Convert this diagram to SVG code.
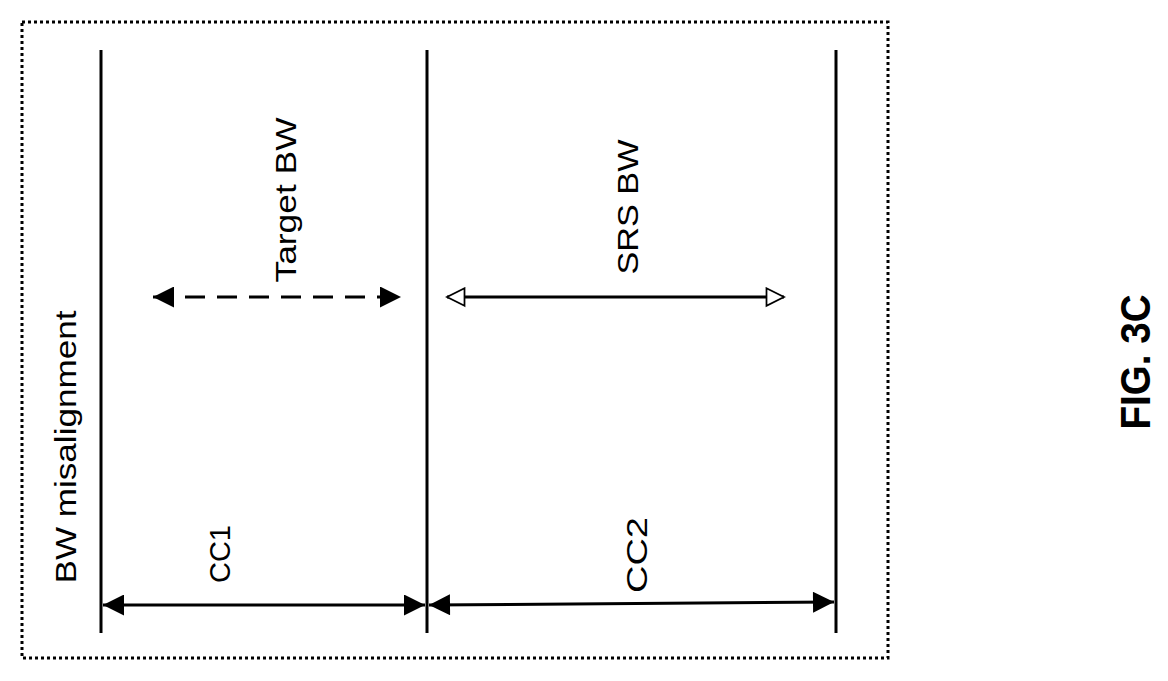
<svg xmlns="http://www.w3.org/2000/svg" width="1168" height="681" viewBox="0 0 1168 681">
<style>
.t{font-family:"Liberation Sans",Arial,sans-serif;font-size:30px;fill:#000;text-anchor:middle}
.l{stroke:#000;stroke-width:3;fill:none}
</style>
<defs>
<marker id="f" viewBox="0 0 10 10" refX="10" refY="5" markerWidth="10" markerHeight="7" orient="auto-start-reverse" markerUnits="strokeWidth"><path d="M0,0L10,5L0,10z" fill="#000"/></marker>
<marker id="o" viewBox="0 0 12 12" refX="11" refY="6" markerWidth="11" markerHeight="7" orient="auto-start-reverse" markerUnits="strokeWidth"><path d="M1,1L11,6L1,11z" fill="#fff" stroke="#000" stroke-width="1"/></marker>
</defs>
<rect x="22" y="22" width="866" height="636" fill="none" stroke="#000" stroke-width="3" stroke-dasharray="3,3"/>
<g id="lines">
<line class="l" x1="101" y1="50" x2="101" y2="633"/>
<line class="l" x1="427" y1="50" x2="427" y2="633"/>
<line class="l" x1="836" y1="50" x2="836" y2="633"/>
</g>
<g id="connectors">
<line class="l" x1="103" y1="605" x2="425" y2="605" marker-start="url(#f)" marker-end="url(#f)"/>
<line class="l" x1="429" y1="605" x2="834" y2="602" marker-start="url(#f)" marker-end="url(#f)"/>
<line class="l" x1="153" y1="297" x2="401" y2="297" stroke-dasharray="20,12" marker-start="url(#f)" marker-end="url(#f)"/>
<line class="l" x1="447" y1="297" x2="784" y2="297" marker-start="url(#o)" marker-end="url(#o)"/>
</g>
<g id="labels">
<text class="t" transform="translate(76,447) rotate(-90)" textLength="273" lengthAdjust="spacingAndGlyphs">BW misalignment</text>
<text class="t" transform="translate(230,554) rotate(-90)" textLength="58" lengthAdjust="spacingAndGlyphs">CC1</text>
<text class="t" transform="translate(647,555) rotate(-90)" textLength="76" lengthAdjust="spacingAndGlyphs">CC2</text>
<text class="t" transform="translate(296,200) rotate(-90)" textLength="165" lengthAdjust="spacingAndGlyphs">Target BW</text>
<text class="t" transform="translate(638,207) rotate(-90)" textLength="135" lengthAdjust="spacingAndGlyphs">SRS BW</text>
<text class="t" style="font-size:42px;font-weight:bold" transform="translate(1150,362) rotate(-90)" textLength="135" lengthAdjust="spacingAndGlyphs">FIG. 3C</text>
</g>
</svg>
